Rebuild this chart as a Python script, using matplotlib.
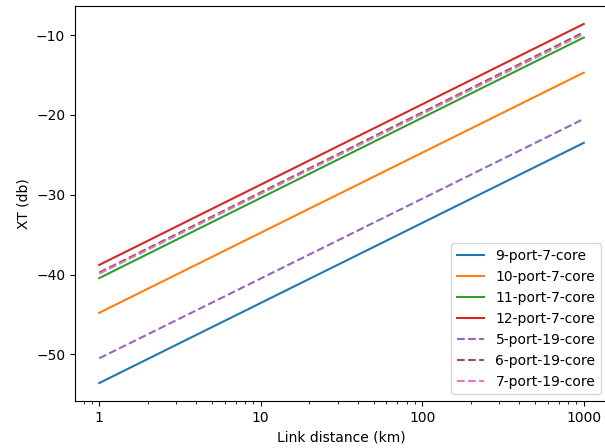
import matplotlib
matplotlib.use("Agg")
import matplotlib.pyplot as plt
import numpy as np

# distancia do enlace (km) - extremos do grafico
distancia = [1, 1000]

xt_9_7 = [-53.6, -23.5]
xt_10_7 = [-44.8, -14.7]
xt_11_7 = [-40.45, -10.3]
xt_12_7 = [-38.8, -8.6]
xt_5_19 = [-50.5, -20.5]
xt_6_19 = [-39.75, -9.65]
xt_7_19 = [-39.9, -9.85]

series = [
    ("9-port-7-core", xt_9_7, "-"),
    ("10-port-7-core", xt_10_7, "-"),
    ("11-port-7-core", xt_11_7, "-"),
    ("12-port-7-core", xt_12_7, "-"),
    ("5-port-19-core", xt_5_19, "--"),
    ("6-port-19-core", xt_6_19, "--"),
    ("7-port-19-core", xt_7_19, "--"),
]

fig = plt.figure(figsize=(6.05, 4.48), dpi=100)
ax = fig.add_axes([75 / 605, 47 / 448, 533 / 605, 395 / 448])

cores = plt.rcParams['axes.prop_cycle'].by_key()['color']
for i, (nome, valores, estilo) in enumerate(series):
    ax.plot(distancia, valores, estilo, color=cores[i], label=nome)

ax.set_xscale("log")
ax.set_xticks([1, 10, 100, 1000])
ax.set_xticklabels(["1", "10", "100", "1000"])
ax.set_xlabel("Link distance (km)")
ax.set_ylabel("XT (db)")
ax.legend(loc="lower right")

fig.savefig("out.png", dpi=100)
